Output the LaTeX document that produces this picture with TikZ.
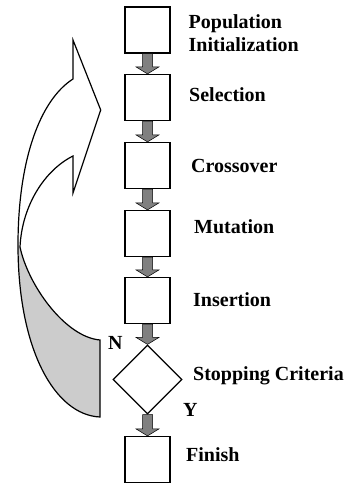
\documentclass[tikz,border=0pt]{standalone}
\usepackage{fontspec}
\setmainfont{Liberation Serif}
\usetikzlibrary{shapes.geometric,calc}
\newcommand{\blkarrow}[2]{%
  \path[blockarrow] let \p1=(#1), \p2=(#2) in
    (\x1-5pt,\y1) -- (\x1+5pt,\y1) -- (\x1+5pt,\y2+7pt) -- (\x1+11.5pt,\y2+7pt)
    -- (\x1,\y2) -- (\x1-11.5pt,\y2+7pt) -- (\x1-5pt,\y2+7pt) -- cycle;}
\begin{document}
\begin{tikzpicture}[x=1pt,y=-1pt,
  stepbox/.style={draw=black,line width=1.2pt,minimum width=45pt,minimum height=46pt,inner sep=0pt,fill=white},
  decision/.style={draw=black,line width=1.2pt,diamond,aspect=1,minimum width=69pt,minimum height=69pt,inner sep=0pt,fill=white},
  lbl/.style={font=\bfseries\fontsize{20}{23}\selectfont,inner sep=0pt,anchor=base west},
  blockarrow/.style={fill=black!50,draw=black,line width=0.5pt},
  bigarrow/.style={draw=black,line width=1.2pt,line join=miter},
  backface/.style={fill=black!20}]
\useasboundingbox (0,0) rectangle (346,484);
% big curved arrow
\path[backface] (18,245) .. controls (18,350) and (55,415) .. (100,417) -- (100,340)
  .. controls (65,337) and (28,285) .. (20,247) -- cycle;
\draw[bigarrow] (100,417) .. controls (55,415) and (18,350) .. (18,245)
  .. controls (18,160) and (40,100) .. (73,79) -- (73,40) -- (100.7,110) -- (73,193) -- (73,156)
  .. controls (45,170) and (22,205) .. (20,247) .. controls (28,285) and (65,337) .. (100,340) -- cycle;
% steps
\node[stepbox] (b1) at (147.5,30) {};
\node[stepbox] (b2) at (147.5,97.5) {};
\node[stepbox] (b3) at (147.5,165.5) {};
\node[stepbox] (b4) at (147.5,233.5) {};
\node[stepbox] (b5) at (147.5,300.5) {};
\node[decision] (d) at (147.5,379.5) {};
\node[stepbox] (b6) at (147.5,459.5) {};
% connectors
\blkarrow{b1.south}{b2.north}
\blkarrow{b2.south}{b3.north}
\blkarrow{b3.south}{b4.north}
\blkarrow{b4.south}{b5.north}
\blkarrow{b5.south}{d.north}
\blkarrow{d.south}{b6.north}
% labels
\node[lbl] (t1a) at (188.5,29) {Population};
\node[lbl] (t1b) at (188.5,52) {Initialization};
\node[lbl] (t2) at (189,102) {Selection};
\node[lbl] (t3) at (191,172) {Crossover};
\node[lbl] (t4) at (194,233) {Mutation};
\node[lbl] (t5) at (193,306) {Insertion};
\node[lbl] (t6) at (193,380) {Stopping Criteria};
\node[lbl] (t7) at (186,461) {Finish};
\node[lbl] (tn) at (108,349) {N};
\node[lbl] (ty) at (183,416) {Y};
\end{tikzpicture}
\end{document}
